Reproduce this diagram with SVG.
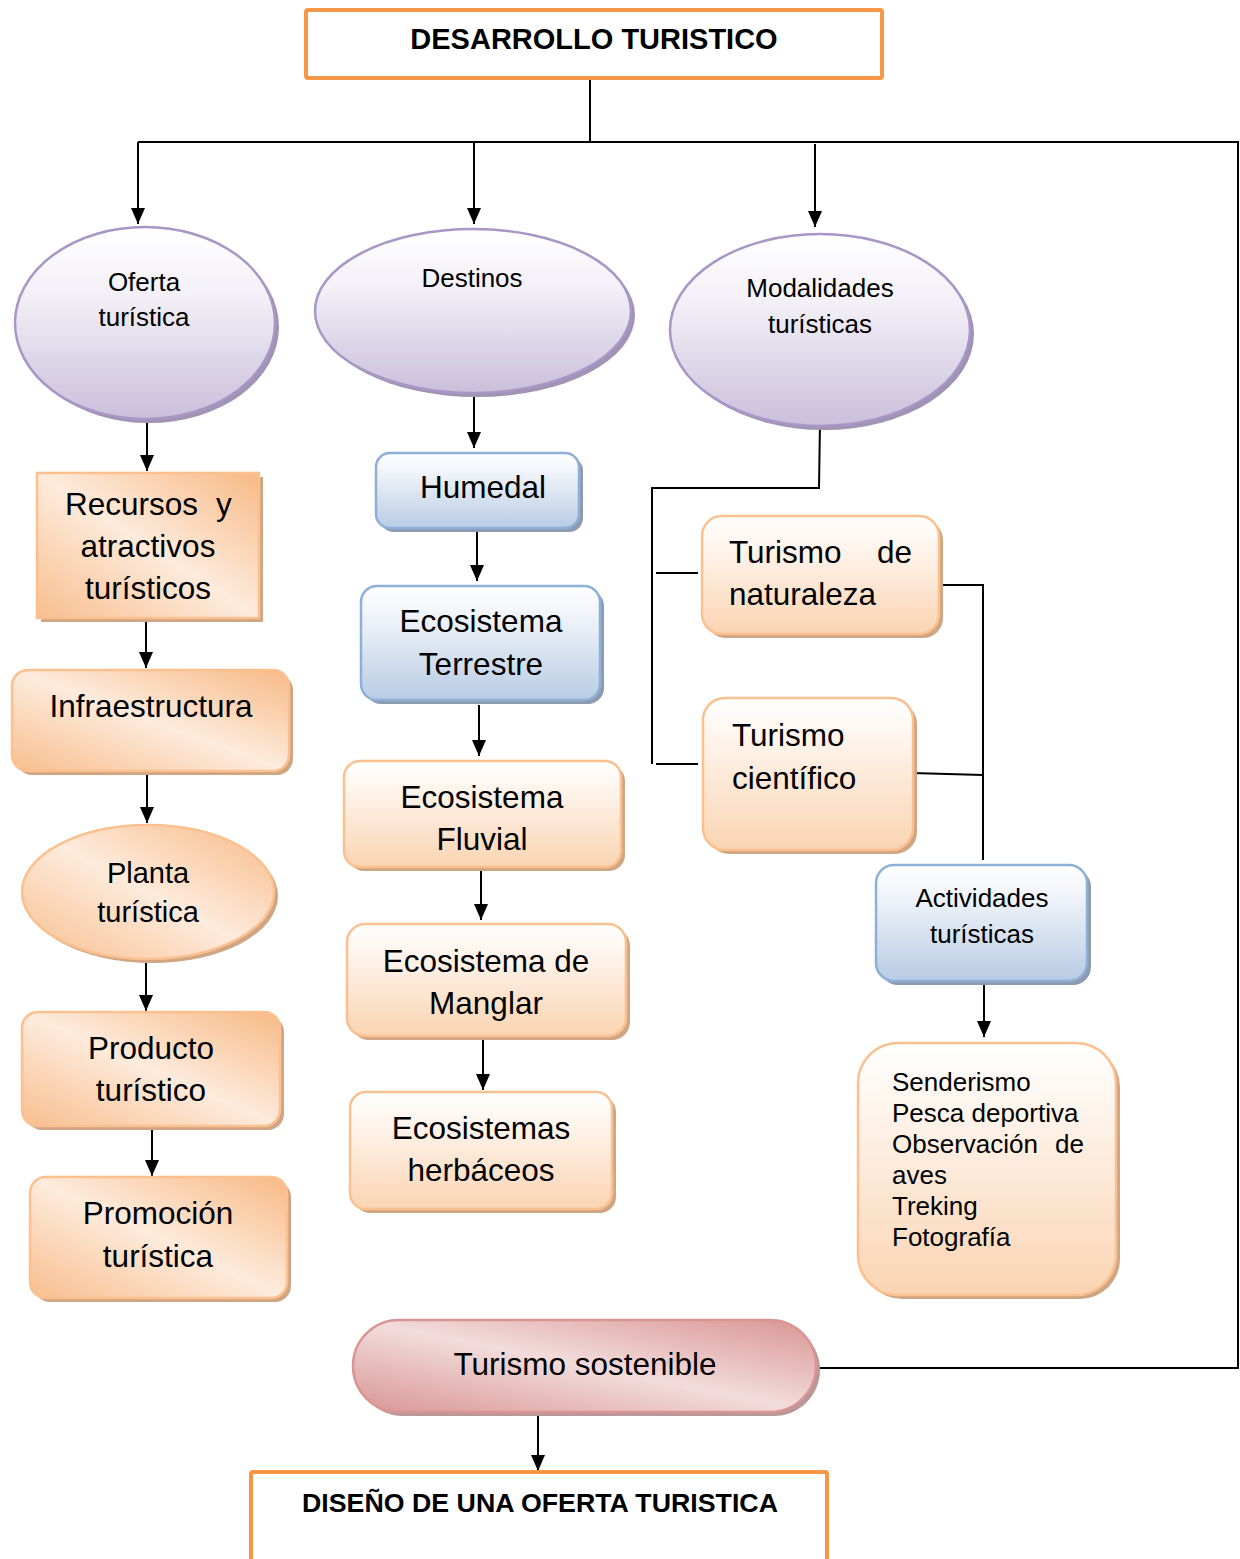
<svg xmlns="http://www.w3.org/2000/svg" width="1240" height="1559" viewBox="0 0 1240 1559">
<defs>
  <linearGradient id="gPurple" x1="0" y1="0" x2="0" y2="1">
    <stop offset="0" stop-color="#FFFFFF"/>
    <stop offset="0.35" stop-color="#F3F0F7"/>
    <stop offset="1" stop-color="#CABFDB"/>
  </linearGradient>
  <linearGradient id="gOrDiag" x1="1" y1="0" x2="0" y2="1">
    <stop offset="0" stop-color="#F8B985"/>
    <stop offset="0.5" stop-color="#FDEBDC"/>
    <stop offset="1" stop-color="#F8BE8E"/>
  </linearGradient>
  <linearGradient id="gOrVert" x1="0" y1="0" x2="0" y2="1">
    <stop offset="0" stop-color="#FFFFFF"/>
    <stop offset="0.3" stop-color="#FEF3EA"/>
    <stop offset="1" stop-color="#FAD4B2"/>
  </linearGradient>
  <linearGradient id="gBlue" x1="0" y1="0" x2="0" y2="1">
    <stop offset="0" stop-color="#FFFFFF"/>
    <stop offset="0.3" stop-color="#EEF2F8"/>
    <stop offset="1" stop-color="#B8CCE4"/>
  </linearGradient>
  <linearGradient id="gPink" x1="1" y1="0" x2="0" y2="1">
    <stop offset="0" stop-color="#D99594"/>
    <stop offset="0.5" stop-color="#F2DCDB"/>
    <stop offset="1" stop-color="#D99594"/>
  </linearGradient>
  <marker id="ah" markerUnits="userSpaceOnUse" markerWidth="16" markerHeight="14" refX="16" refY="7" orient="auto">
    <path d="M0,0 L16,7 L0,14 z" fill="#000"/>
  </marker>
  <style>
    .t { font-family: "Liberation Sans", Arial, sans-serif; fill: #000; }
    .c { text-anchor: middle; }
    .f26 { font-size: 26px; }
    .f29 { font-size: 29px; }
    .f31 { font-size: 31.5px; }
    .b { font-weight: bold; }
    .ln { stroke: #000; stroke-width: 2; fill: none; }
    .ar { stroke: #000; stroke-width: 2; fill: none; marker-end: url(#ah); }
    .pur { fill: url(#gPurple); stroke: #A896C6; stroke-width: 2.5; }
    .purS { fill: #A093B3; }
    .ord { fill: url(#gOrDiag); stroke: #FAC090; stroke-width: 2.5; }
    .orv { fill: url(#gOrVert); stroke: #FAC090; stroke-width: 2.5; }
    .orS { fill: #D0A582; }
    .blu { fill: url(#gBlue); stroke: #8EB0D8; stroke-width: 2.5; }
    .bluS { fill: #8C9BAF; }
    .pnk { fill: url(#gPink); stroke: #D99594; stroke-width: 2.5; }
    .pnkS { fill: #B89898; }
    .frame { fill: #FFFFFF; stroke: #F79646; stroke-width: 4; }
  </style>
</defs>
<rect width="1240" height="1559" fill="#FFFFFF"/>

<g id="connectors">
  <line class="ln" x1="590" y1="80" x2="590" y2="142"/>
  <line class="ln" x1="138" y1="142" x2="1239" y2="142"/>
  <line class="ar" x1="138" y1="142" x2="138" y2="224"/>
  <line class="ar" x1="474" y1="142" x2="474" y2="224"/>
  <line class="ar" x1="815" y1="144" x2="815" y2="227"/>
  <line class="ln" x1="1238" y1="142" x2="1238" y2="1369"/>
  <line class="ln" x1="817" y1="1368" x2="1239" y2="1368"/>
  <line class="ar" x1="147" y1="421" x2="147" y2="471"/>
  <line class="ar" x1="146" y1="619" x2="146" y2="668"/>
  <line class="ar" x1="147" y1="774" x2="147" y2="823"/>
  <line class="ar" x1="146" y1="963" x2="146" y2="1011"/>
  <line class="ar" x1="152" y1="1130" x2="152" y2="1176"/>
  <line class="ar" x1="474" y1="397" x2="474" y2="448"/>
  <line class="ar" x1="477" y1="532" x2="477" y2="581"/>
  <line class="ar" x1="479" y1="705" x2="479" y2="756"/>
  <line class="ar" x1="481" y1="869" x2="481" y2="920"/>
  <line class="ar" x1="483" y1="1040" x2="483" y2="1090"/>
  <polyline class="ln" points="820,423 819,488 653,488"/>
  <line class="ln" x1="652" y1="487" x2="652" y2="764"/>
  <line class="ln" x1="656" y1="573" x2="698" y2="573"/>
  <line class="ln" x1="656" y1="764" x2="698" y2="764"/>
  <line class="ln" x1="943" y1="585" x2="984" y2="585"/>
  <line class="ln" x1="983" y1="584" x2="983" y2="860"/>
  <line class="ln" x1="912" y1="773" x2="983" y2="775"/>
  <line class="ar" x1="984" y1="985" x2="984" y2="1037"/>
  <line class="ar" x1="538" y1="1414" x2="538" y2="1471"/>
</g>

<g id="desarrollo">
  <rect class="frame" x="306" y="10" width="576" height="68" rx="2"/>
  <text class="t c b f29" x="594" y="49">DESARROLLO TURISTICO</text>
</g>

<g id="oferta">
  <ellipse class="purS" cx="149" cy="327" rx="130" ry="96"/>
  <ellipse class="pur" cx="145" cy="323" rx="130" ry="96"/>
  <text class="t c f26" x="144" y="291">Oferta</text>
  <text class="t c f26" x="144" y="326">turística</text>
</g>

<g id="destinos">
  <ellipse class="purS" cx="477" cy="315" rx="158" ry="82"/>
  <ellipse class="pur" cx="473" cy="311" rx="158" ry="82"/>
  <text class="t c f26" x="472" y="287">Destinos</text>
</g>

<g id="modalidades">
  <ellipse class="purS" cx="824" cy="334" rx="150" ry="96"/>
  <ellipse class="pur" cx="820" cy="330" rx="150" ry="96"/>
  <text class="t c f26" x="820" y="297">Modalidades</text>
  <text class="t c f26" x="820" y="333">turísticas</text>
</g>

<g id="recursos">
  <rect class="orS" x="41" y="477" width="222" height="145"/>
  <rect class="ord" x="37" y="473" width="222" height="145"/>
  <text class="t f31" y="515"><tspan x="65">Recursos</tspan><tspan x="216">y</tspan></text>
  <text class="t c f31" x="148" y="557">atractivos</text>
  <text class="t c f31" x="148" y="599">turísticos</text>
</g>

<g id="infraestructura">
  <rect class="orS" x="16" y="674" width="277" height="101" rx="16"/>
  <rect class="ord" x="12" y="670" width="277" height="101" rx="16"/>
  <text class="t c f31" x="151" y="717">Infraestructura</text>
</g>

<g id="planta">
  <ellipse class="orS" cx="152" cy="896" rx="126" ry="67"/>
  <ellipse class="ord" cx="148" cy="892" rx="126" ry="67"/>
  <text class="t c f29" x="148" y="883">Planta</text>
  <text class="t c f29" x="148" y="922">turística</text>
</g>

<g id="producto">
  <rect class="orS" x="26" y="1016" width="258" height="114" rx="16"/>
  <rect class="ord" x="22" y="1012" width="258" height="114" rx="16"/>
  <text class="t c f31" x="151" y="1059">Producto</text>
  <text class="t c f31" x="151" y="1101">turístico</text>
</g>

<g id="promocion">
  <rect class="orS" x="34" y="1181" width="257" height="121" rx="16"/>
  <rect class="ord" x="30" y="1177" width="257" height="121" rx="16"/>
  <text class="t c f31" x="158" y="1224">Promoción</text>
  <text class="t c f31" x="158" y="1267">turística</text>
</g>

<g id="humedal">
  <rect class="bluS" x="380" y="457" width="203" height="75" rx="14"/>
  <rect class="blu" x="376" y="453" width="203" height="75" rx="14"/>
  <text class="t c f31" x="483" y="498">Humedal</text>
</g>

<g id="terrestre">
  <rect class="bluS" x="365" y="590" width="239" height="114" rx="16"/>
  <rect class="blu" x="361" y="586" width="239" height="114" rx="16"/>
  <text class="t c f31" x="481" y="632">Ecosistema</text>
  <text class="t c f31" x="481" y="675">Terrestre</text>
</g>

<g id="fluvial">
  <rect class="orS" x="348" y="765" width="277" height="106" rx="16"/>
  <rect class="orv" x="344" y="761" width="277" height="106" rx="16"/>
  <text class="t c f31" x="482" y="808">Ecosistema</text>
  <text class="t c f31" x="482" y="850">Fluvial</text>
</g>

<g id="manglar">
  <rect class="orS" x="351" y="928" width="279" height="112" rx="18"/>
  <rect class="orv" x="347" y="924" width="279" height="112" rx="18"/>
  <text class="t c f31" x="486" y="972">Ecosistema de</text>
  <text class="t c f31" x="486" y="1014">Manglar</text>
</g>

<g id="herbaceos">
  <rect class="orS" x="354" y="1096" width="262" height="117" rx="16"/>
  <rect class="orv" x="350" y="1092" width="262" height="117" rx="16"/>
  <text class="t c f31" x="481" y="1139">Ecosistemas</text>
  <text class="t c f31" x="481" y="1181">herbáceos</text>
</g>

<g id="naturaleza">
  <rect class="orS" x="706" y="520" width="237" height="118" rx="20"/>
  <rect class="orv" x="702" y="516" width="237" height="118" rx="20"/>
  <text class="t f31" y="563"><tspan x="729">Turismo</tspan><tspan x="877">de</tspan></text>
  <text class="t f31" x="729" y="605">naturaleza</text>
</g>

<g id="cientifico">
  <rect class="orS" x="707" y="702" width="210" height="152" rx="22"/>
  <rect class="orv" x="703" y="698" width="210" height="152" rx="22"/>
  <text class="t f31" x="732" y="746">Turismo</text>
  <text class="t f31" x="732" y="789">científico</text>
</g>

<g id="actividades">
  <rect class="bluS" x="880" y="869" width="211" height="116" rx="18"/>
  <rect class="blu" x="876" y="865" width="211" height="116" rx="18"/>
  <text class="t c f26" x="982" y="907">Actividades</text>
  <text class="t c f26" x="982" y="943">turísticas</text>
</g>

<g id="lista">
  <rect class="orS" x="862" y="1047" width="258" height="252" rx="40"/>
  <rect class="orv" x="858" y="1043" width="258" height="252" rx="40"/>
  <text class="t f26" x="892" y="1091">Senderismo</text>
  <text class="t f26" x="892" y="1122">Pesca deportiva</text>
  <text class="t f26" y="1153"><tspan x="892">Observación</tspan><tspan x="1055">de</tspan></text>
  <text class="t f26" x="892" y="1184">aves</text>
  <text class="t f26" x="892" y="1215">Treking</text>
  <text class="t f26" x="892" y="1246">Fotografía</text>
</g>

<g id="sostenible">
  <rect class="pnkS" x="357" y="1324" width="463" height="92" rx="46"/>
  <rect class="pnk" x="353" y="1320" width="463" height="92" rx="46"/>
  <text class="t c f31" x="585" y="1375">Turismo sostenible</text>
</g>

<g id="diseno">
  <rect class="frame" x="251" y="1472" width="576" height="110" rx="2"/>
  <text class="t c b" style="font-size:26px" x="540" y="1512" textLength="476" lengthAdjust="spacingAndGlyphs">DISEÑO DE UNA OFERTA TURISTICA</text>
</g>
</svg>
